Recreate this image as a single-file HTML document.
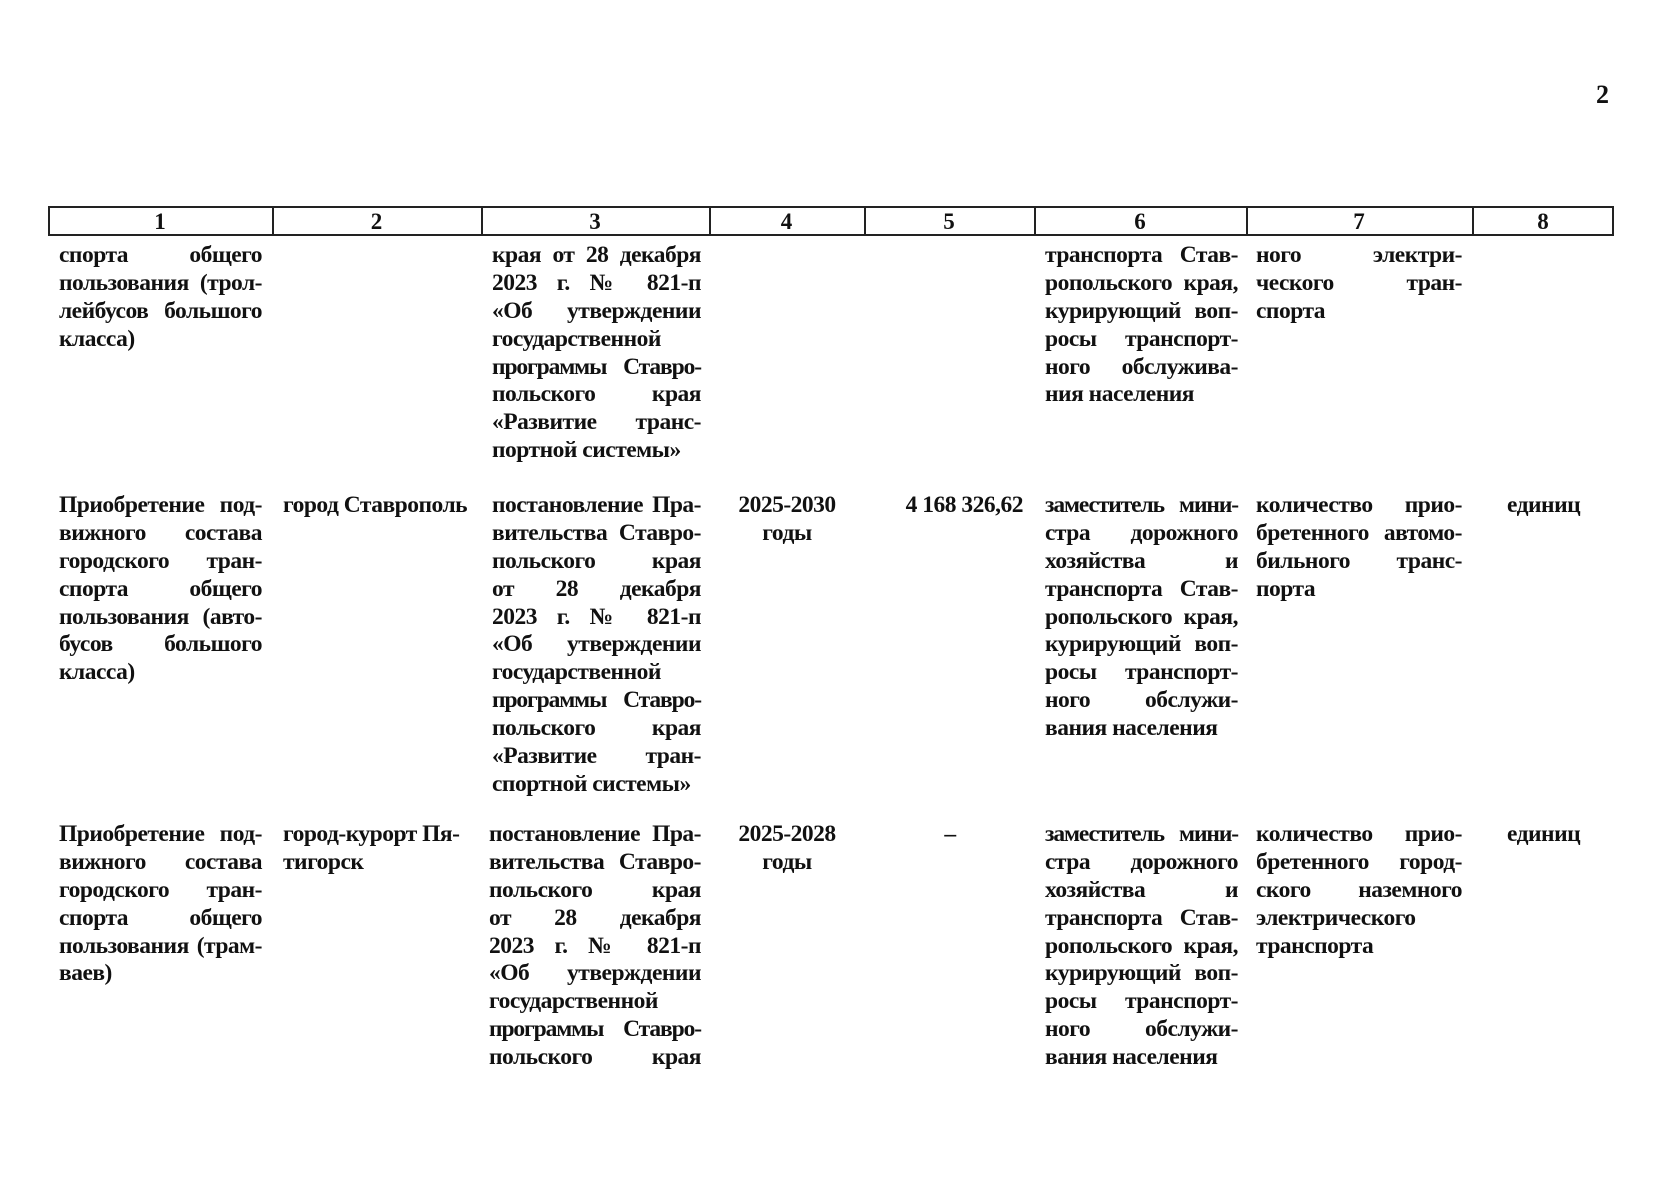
<!DOCTYPE html>
<html><head><meta charset="utf-8"><style>
body{margin:0;width:1676px;height:1200px;background:#fff;position:relative;overflow:hidden;font-family:"Liberation Serif","DejaVu Serif",serif;font-weight:bold;color:#111;}
.c{position:absolute;font-size:23.5px;line-height:27.9px;letter-spacing:-0.5px}
.c div{white-space:nowrap;height:27.9px}
.c div.j{text-align:justify;text-align-last:justify;white-space:normal}
.c div.t{letter-spacing:-1.1px}
.hdr{position:absolute;left:48px;top:206px;width:1566px;height:30px;border:2px solid #222;box-sizing:border-box}
.v{position:absolute;top:206px;height:30px;width:1.5px;background:#222}
.n{position:absolute;top:207px;height:30px;line-height:30px;font-size:23px;text-align:center}
</style></head><body>
<div style="position:absolute;left:1596px;top:80px;font-size:26px">2</div>
<div class="hdr"></div>
<div class="v" style="left:272px"></div><div class="v" style="left:481px"></div><div class="v" style="left:709px"></div><div class="v" style="left:864px"></div><div class="v" style="left:1034px"></div><div class="v" style="left:1246px"></div><div class="v" style="left:1472px"></div>
<div class="n" style="left:48px;width:224px">1</div><div class="n" style="left:272px;width:209px">2</div><div class="n" style="left:481px;width:228px">3</div><div class="n" style="left:709px;width:155px">4</div><div class="n" style="left:864px;width:170px">5</div><div class="n" style="left:1034px;width:212px">6</div><div class="n" style="left:1246px;width:226px">7</div><div class="n" style="left:1472px;width:142px">8</div>

<!-- row 1 -->
<div class="c" style="left:59px;top:242px;width:203px"><div class="j">спорта общего</div><div class="j">пользования (трол-</div><div class="j">лейбусов большого</div><div>класса)</div></div>
<div class="c" style="left:492px;top:242px;width:209px"><div class="j">края от 28 декабря</div><div class="j">2023 г. № 821-п</div><div class="j">«Об утверждении</div><div>государственной</div><div class="j t">программы Ставро-</div><div class="j">польского края</div><div class="j">«Развитие транс-</div><div>портной системы»</div></div>
<div class="c" style="left:1045px;top:242px;width:193px"><div class="j">транспорта Став-</div><div class="j">ропольского края,</div><div class="j">курирующий воп-</div><div class="j">росы транспорт-</div><div class="j">ного обслужива-</div><div>ния населения</div></div>
<div class="c" style="left:1256px;top:242px;width:206px"><div class="j">ного электри-</div><div class="j">ческого тран-</div><div>спорта</div></div>

<!-- row 2 -->
<div class="c" style="left:59px;top:492px;width:203px"><div class="j">Приобретение под-</div><div class="j">вижного состава</div><div class="j">городского тран-</div><div class="j">спорта общего</div><div class="j">пользования (авто-</div><div class="j">бусов большого</div><div>класса)</div></div>
<div class="c" style="left:283px;top:492px;width:190px"><div>город Ставрополь</div></div>
<div class="c" style="left:492px;top:492px;width:209px"><div class="j">постановление Пра-</div><div class="j">вительства Ставро-</div><div class="j">польского края</div><div class="j">от 28 декабря</div><div class="j">2023 г. № 821-п</div><div class="j">«Об утверждении</div><div>государственной</div><div class="j t">программы Ставро-</div><div class="j">польского края</div><div class="j">«Развитие тран-</div><div>спортной системы»</div></div>
<div class="c" style="left:716px;top:492px;width:142px;text-align:center"><div>2025-2030</div><div>годы</div></div>
<div class="c" style="left:870px;top:492px;width:153px;text-align:right"><div>4 168 326,62</div></div>
<div class="c" style="left:1045px;top:492px;width:193px"><div class="j t">заместитель мини-</div><div class="j">стра дорожного</div><div class="j">хозяйства и</div><div class="j">транспорта Став-</div><div class="j">ропольского края,</div><div class="j">курирующий воп-</div><div class="j">росы транспорт-</div><div class="j">ного обслужи-</div><div>вания населения</div></div>
<div class="c" style="left:1256px;top:492px;width:206px"><div class="j">количество прио-</div><div class="j">бретенного автомо-</div><div class="j">бильного транс-</div><div>порта</div></div>
<div class="c" style="left:1507px;top:492px"><div>единиц</div></div>

<!-- row 3 -->
<div class="c" style="left:59px;top:821px;width:203px"><div class="j">Приобретение под-</div><div class="j">вижного состава</div><div class="j">городского тран-</div><div class="j">спорта общего</div><div class="j">пользования (трам-</div><div>ваев)</div></div>
<div class="c" style="left:283px;top:821px;width:190px"><div>город-курорт Пя-</div><div>тигорск</div></div>
<div class="c" style="left:489px;top:821px;width:212px"><div class="j">постановление Пра-</div><div class="j">вительства Ставро-</div><div class="j">польского края</div><div class="j">от 28 декабря</div><div class="j">2023 г. № 821-п</div><div class="j">«Об утверждении</div><div>государственной</div><div class="j t">программы Ставро-</div><div class="j">польского края</div></div>
<div class="c" style="left:716px;top:821px;width:142px;text-align:center"><div>2025-2028</div><div>годы</div></div>
<div class="c" style="left:935px;top:821px;width:30px;text-align:center"><div>–</div></div>
<div class="c" style="left:1045px;top:821px;width:193px"><div class="j t">заместитель мини-</div><div class="j">стра дорожного</div><div class="j">хозяйства и</div><div class="j">транспорта Став-</div><div class="j">ропольского края,</div><div class="j">курирующий воп-</div><div class="j">росы транспорт-</div><div class="j">ного обслужи-</div><div>вания населения</div></div>
<div class="c" style="left:1256px;top:821px;width:206px"><div class="j">количество прио-</div><div class="j">бретенного город-</div><div class="j">ского наземного</div><div>электрического</div><div>транспорта</div></div>
<div class="c" style="left:1507px;top:821px"><div>единиц</div></div>
</body></html>
